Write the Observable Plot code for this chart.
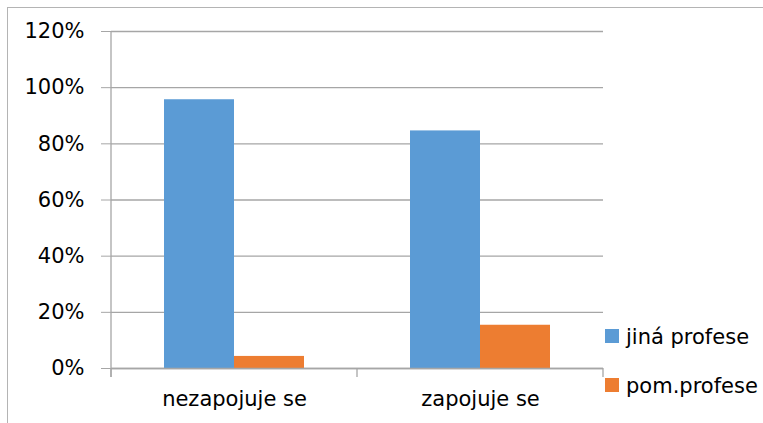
<!DOCTYPE html>
<html>
<head>
<meta charset="utf-8">
<script src="https://cdn.jsdelivr.net/npm/d3@7"></script>
<script src="https://cdn.jsdelivr.net/npm/@observablehq/plot@0.6"></script>
<style>
  html, body { margin: 0; padding: 0; background: #fff; }
  #wrap { position: relative; width: 763px; height: 423px; overflow: hidden; }
  #frame { position: absolute; left: 7px; top: 7px; width: 900px; height: 600px; border: 1px solid #b4b4b4; box-sizing: border-box; }
  #chart { position: absolute; left: 0; top: 0; }
</style>
</head>
<body>
<div id="wrap"><div id="frame"></div><div id="chart"></div></div>
<script>
const categories = ["nezapojuje se", "zapojuje se"];
const series = ["jiná profese", "pom.profese"];
const jinaProfese = [0.957, 0.846];
const pomProfese = [0.043, 0.154];
const yTicks = [0, 0.2, 0.4, 0.6, 0.8, 1.0, 1.2];
const colors = ["#5B9BD5", "#ED7D31"];

const data = [];
categories.forEach((c, i) => {
  data.push({cat: c, series: series[0], value: jinaProfese[i]});
  data.push({cat: c, series: series[1], value: pomProfese[i]});
});

const gridColor = "#a6a6a6";
const font = "DejaVu Sans";
const fs = 21;

const chart = Plot.plot({
  width: 763,
  height: 423,
  marginLeft: 110,
  marginRight: 160,
  marginTop: 31,
  marginBottom: 55,
  style: {fontFamily: font, fontSize: fs + "px", color: "#000", background: "transparent", overflow: "visible"},
  fx: {domain: categories, padding: 0, label: null},
  x: {domain: series, paddingInner: 0, paddingOuter: 0.754, axis: null},
  y: {domain: [0, 1.2]},
  color: {domain: series, range: colors},
  marks: [
    Plot.gridY(yTicks, {stroke: gridColor, strokeOpacity: 1, strokeWidth: 1.3}),
    Plot.axisY(yTicks, {tickFormat: d3.format(".0%"), tickSize: 10, tickPadding: 17, stroke: gridColor, strokeOpacity: 1, fill: "#000", label: null, fontSize: fs}),
    Plot.axisFx({anchor: "bottom", tickSize: 0, tickPadding: 23, fontSize: fs, fill: "#000", label: null}),
    Plot.barY(data, {fx: "cat", x: "series", y: "value", fill: "series"}),
    Plot.ruleY([0], {stroke: gridColor, strokeWidth: 1.3})
  ]
});
document.getElementById("chart").appendChild(chart);

// Axis lines built from the library's scales
const svg = d3.select(chart);
const fx = chart.scale("fx");
const y = chart.scale("y");
const y0 = y.apply(0), yTop = y.apply(1.2);
const bw = fx.bandwidth;
const edges = categories.map(c => fx.apply(c)).concat([fx.apply(categories[categories.length - 1]) + bw]);
const g = svg.append("g").attr("stroke", gridColor).attr("stroke-width", 1.3);
g.append("line").attr("x1", edges[0]).attr("x2", edges[0]).attr("y1", yTop).attr("y2", y0 + 9);
edges.forEach(e => g.append("line").attr("x1", e).attr("x2", e).attr("y1", y0).attr("y2", y0 + 9));

// Legend
const color = chart.scale("color");
const lg = svg.append("g").attr("font-family", font).attr("font-size", fs).attr("text-anchor", "start");
series.forEach((s, i) => {
  const top = 329 + i * 49;
  lg.append("rect").attr("x", 605).attr("y", top).attr("width", 14).attr("height", 14).attr("fill", color.apply(s));
  lg.append("text").attr("x", 626).attr("y", top + 15).attr("fill", "#000").attr("text-anchor", "start").text(s);
});
</script>
</body>
</html>
